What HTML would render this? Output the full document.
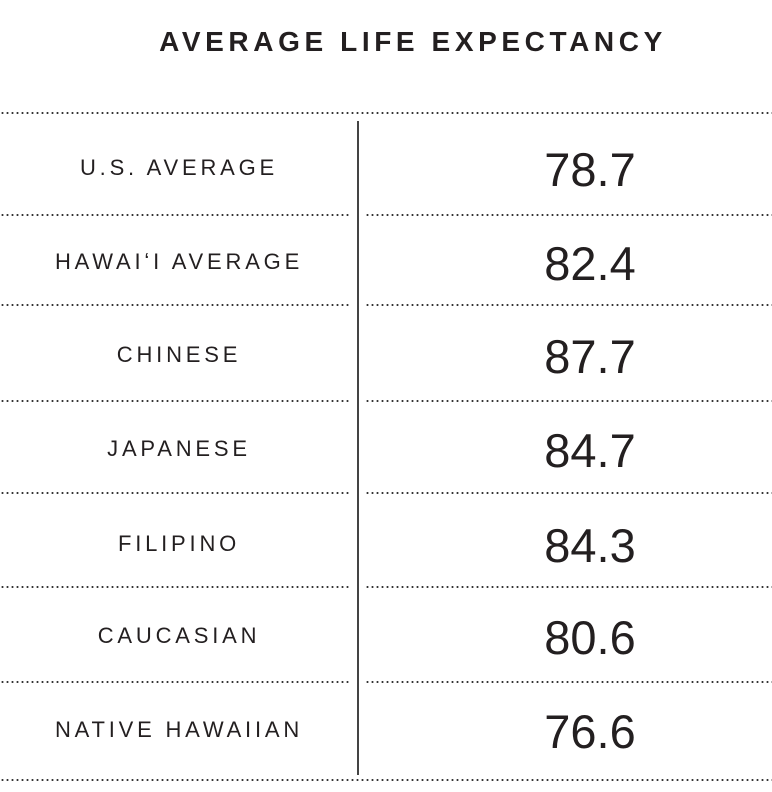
<!DOCTYPE html>
<html><head><style>
body{margin:0;width:772px;height:792px;background:#fff;position:relative;overflow:hidden;font-family:"Liberation Sans",sans-serif;color:#231f20}
.t{position:absolute;top:26px;left:0;width:826px;text-align:center;font-weight:bold;font-size:28px;letter-spacing:4.6px}
.d{position:absolute;height:2px;background-image:radial-gradient(circle,#333 0.9px,transparent 1.2px);background-size:5px 2px;background-repeat:repeat-x}
.v{position:absolute;left:357px;top:121px;width:2px;height:654px;background:#444}
.l{position:absolute;left:0;width:358px;text-align:center;font-size:22px;letter-spacing:3.8px;line-height:30px}
.n{position:absolute;left:360px;width:460px;text-align:center;font-size:47px;line-height:50px}
</style></head><body>
<div class="t">AVERAGE LIFE EXPECTANCY</div>
<div class="d" style="left:0;width:772px;top:112px"></div>
<div class="v"></div>
<div class="d" style="left:0;width:351px;top:214px"></div><div class="d" style="left:365px;width:407px;top:214px"></div>
<div class="d" style="left:0;width:351px;top:304px"></div><div class="d" style="left:365px;width:407px;top:304px"></div>
<div class="d" style="left:0;width:351px;top:400px"></div><div class="d" style="left:365px;width:407px;top:400px"></div>
<div class="d" style="left:0;width:351px;top:492px"></div><div class="d" style="left:365px;width:407px;top:492px"></div>
<div class="d" style="left:0;width:351px;top:586px"></div><div class="d" style="left:365px;width:407px;top:586px"></div>
<div class="d" style="left:0;width:351px;top:681px"></div><div class="d" style="left:365px;width:407px;top:681px"></div>
<div class="d" style="left:0;width:772px;top:779px"></div>
<div class="l" style="top:153px">U.S. AVERAGE</div><div class="n" style="top:145px">78.7</div>
<div class="l" style="top:247px">HAWAIʻI AVERAGE</div><div class="n" style="top:239px">82.4</div>
<div class="l" style="top:340px">CHINESE</div><div class="n" style="top:332px">87.7</div>
<div class="l" style="top:434px">JAPANESE</div><div class="n" style="top:426px">84.7</div>
<div class="l" style="top:529px">FILIPINO</div><div class="n" style="top:521px">84.3</div>
<div class="l" style="top:621px">CAUCASIAN</div><div class="n" style="top:613px">80.6</div>
<div class="l" style="top:715px">NATIVE HAWAIIAN</div><div class="n" style="top:707px">76.6</div>
</body></html>
